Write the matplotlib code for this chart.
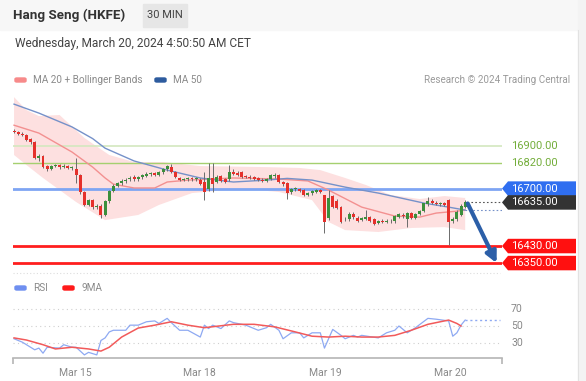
import numpy as np
import matplotlib.pyplot as plt
from matplotlib.patches import Polygon, Rectangle, FancyBboxPatch
from matplotlib.lines import Line2D

plt.rcParams["font.family"] = ["Roboto", "DejaVu Sans"]

# ---- data (30 min candles, Mar 14 -> Mar 20) ----
opens = [16972, 16964, 16958, 16952, 16932, 16920, 16842, 16855, 16804, 16792,
         16806, 16810, 16800, 16806, 16796, 16792, 16762, 16684, 16624, 16646,
         16614, 16620, 16578, 16640, 16690, 16714, 16726, 16736, 16744, 16756,
         16744, 16754, 16760, 16768, 16774, 16764, 16778, 16790, 16802, 16778,
         16748, 16740, 16744, 16750, 16744, 16742, 16730, 16700, 16750, 16732,
         16760, 16744, 16744, 16776, 16772, 16776, 16758, 16754, 16754, 16748,
         16742, 16738, 16744, 16760, 16766, 16730, 16724, 16684, 16698, 16700,
         16692, 16672, 16678, 16686, 16692, 16668, 16560, 16664, 16640, 16612,
         16558, 16555, 16582, 16562, 16552, 16558, 16566, 16556, 16538, 16548,
         16544, 16550, 16546, 16566, 16578, 16556, 16586, 16564, 16580, 16594,
         16626, 16642, 16634, 16628, 16632, 16646, 16546, 16558, 16578, 16615]
highs = [16980, 16970, 16966, 16958, 16940, 16926, 16862, 16860, 16812, 16812,
         16815, 16816, 16814, 16812, 16806, 16845, 16770, 16690, 16652, 16652,
         16628, 16626, 16646, 16695, 16720, 16732, 16744, 16748, 16758, 16762,
         16760, 16768, 16776, 16780, 16780, 16784, 16795, 16812, 16815, 16784,
         16756, 16752, 16756, 16756, 16756, 16750, 16778, 16820, 16822, 16764,
         16766, 16752, 16812, 16790, 16782, 16782, 16766, 16762, 16760, 16754,
         16748, 16748, 16770, 16772, 16770, 16738, 16730, 16704, 16708, 16704,
         16698, 16684, 16692, 16698, 16698, 16672, 16695, 16672, 16650, 16618,
         16566, 16588, 16590, 16570, 16566, 16600, 16572, 16562, 16554, 16556,
         16556, 16556, 16576, 16586, 16584, 16592, 16592, 16586, 16600, 16634,
         16662, 16650, 16640, 16638, 16638, 16652, 16565, 16598, 16628, 16648]
lows = [16960, 16952, 16945, 16925, 16912, 16838, 16832, 16795, 16782, 16786,
        16800, 16794, 16796, 16790, 16788, 16725, 16675, 16618, 16618, 16606,
        16606, 16562, 16570, 16632, 16684, 16706, 16718, 16728, 16738, 16738,
        16738, 16746, 16754, 16760, 16758, 16758, 16770, 16784, 16772, 16752,
        16734, 16734, 16738, 16738, 16736, 16715, 16646, 16690, 16684, 16725,
        16730, 16724, 16738, 16764, 16760, 16750, 16748, 16744, 16742, 16734,
        16732, 16732, 16740, 16752, 16726, 16714, 16650, 16676, 16690, 16684,
        16664, 16664, 16672, 16680, 16678, 16490, 16552, 16610, 16604, 16538,
        16548, 16548, 16558, 16545, 16546, 16552, 16544, 16530, 16532, 16538,
        16538, 16540, 16540, 16560, 16562, 16520, 16555, 16556, 16574, 16588,
        16620, 16628, 16622, 16620, 16618, 16435, 16540, 16550, 16570, 16608]
closes = [16964, 16958, 16950, 16930, 16918, 16845, 16855, 16800, 16790, 16805,
          16810, 16800, 16808, 16795, 16800, 16765, 16682, 16625, 16646, 16612,
          16620, 16575, 16640, 16690, 16714, 16728, 16738, 16742, 16752, 16744,
          16756, 16762, 16770, 16775, 16764, 16778, 16790, 16804, 16778, 16756,
          16740, 16746, 16750, 16744, 16750, 16722, 16686, 16752, 16722, 16756,
          16736, 16730, 16776, 16770, 16766, 16754, 16754, 16750, 16747, 16740,
          16738, 16743, 16763, 16766, 16730, 16720, 16678, 16700, 16702, 16690,
          16670, 16678, 16688, 16692, 16684, 16545, 16655, 16615, 16610, 16545,
          16555, 16582, 16565, 16550, 16560, 16566, 16550, 16535, 16548, 16544,
          16550, 16546, 16570, 16580, 16570, 16586, 16560, 16580, 16595, 16630,
          16642, 16634, 16628, 16632, 16624, 16545, 16556, 16590, 16620, 16635]

# moving averages / bands (candle index, price)
ma50_idx = [0, 6, 14, 19, 22, 29, 37, 45, 53, 61, 66, 72, 80, 88, 99, 105, 109]
ma50_val = [17097, 17055, 16990, 16935, 16890, 16830, 16787, 16750, 16731, 16740,
            16748, 16740, 16707, 16679, 16632, 16613, 16599]
ma20_idx = [0, 6, 14, 19, 22, 24, 29, 34, 37, 42, 53, 64, 71, 76, 84, 92, 98, 102, 107, 109]
ma20_val = [16998, 16961, 16872, 16801, 16750, 16721, 16703, 16703, 16731, 16740,
            16750, 16745, 16736, 16693, 16613, 16571, 16566, 16585, 16594, 16599]
bb_up_idx = [0, 3, 6, 11, 17, 23, 29, 36, 45, 61, 69, 74, 80, 85, 91, 98, 104, 109]
bb_up_val = [17130, 17069, 17041, 17046, 16938, 16858, 16825, 16825, 16806, 16801,
             16797, 16787, 16750, 16717, 16670, 16651, 16665, 16656]
bb_lo_idx = [0, 3, 7, 15, 22, 30, 35, 43, 51, 59, 64, 72, 76, 80, 88, 96, 104, 109]
bb_lo_val = [16858, 16811, 16750, 16637, 16552, 16576, 16623, 16679, 16693, 16693,
             16684, 16646, 16543, 16505, 16496, 16515, 16519, 16505]

# RSI panel
rsi_idx = [0, 2, 5, 6, 7, 8, 11, 12, 14, 15, 17, 18, 20, 21, 22, 23, 24, 27, 28, 30,
           32, 34, 35, 37, 38, 40, 42, 45, 46, 47, 48, 50, 52, 53, 56, 59, 61, 62, 64,
           65, 67, 69, 70, 72, 74, 75, 77, 79, 80, 82, 83, 84, 88, 90, 92, 93, 95, 97,
           100, 102, 105, 106, 107, 108, 109]
rsi_val = [35, 31, 22, 24, 18, 25, 24, 28, 25, 25, 16, 19, 16, 33, 36, 43, 45, 45, 51, 51,
           55, 56, 53, 59, 54, 45, 45, 37, 51, 47, 51, 47, 56, 54, 51, 45, 48, 52, 45,
           35, 42, 42, 36, 42, 42, 24, 46, 39, 35, 39, 37, 39, 36, 42, 45, 50, 42, 48,
           59, 58, 56, 38, 42, 51, 57]
ma9_idx = [0, 3, 7, 10, 14, 18, 21, 23, 26, 30, 34, 38, 42, 46, 53, 58, 63, 68, 72,
           76, 80, 84, 88, 92, 96, 100, 105, 107, 108]
ma9_val = [36, 33.5, 28, 23, 25, 23, 20.5, 25, 37, 47.6, 51, 55, 51, 48, 52, 52, 49,
           43, 38, 37, 38, 37, 37, 39, 45, 52, 57, 53, 50]

levels = [16900, 16820, 16700, 16430, 16350]
level_colors = ["#d3e8bf", "#a5d06f", "#7ea5f3", "#ff1e1e", "#ff1e1e"]
level_widths = [1.2, 1.0, 2.0, 2.0, 2.0]
target = 16350
day_ticks = [14.7, 44.9, 75.1, 105.3]
day_labels = ["Mar 15", "Mar 18", "Mar 19", "Mar 20"]

W, H = 586, 381
fig = plt.figure(figsize=(W / 100, H / 100), dpi=100)


def px_box(x0, y0, x1, y1):
    return [x0 / W, 1 - y1 / H, (x1 - x0) / W, (y1 - y0) / H]


def fx(x):
    return x / W


def fy(y):
    return 1 - y / H


# page frame
fig.patches.append(Rectangle((0, fy(30)), 1, 1 - fy(30), transform=fig.transFigure,
                             color="#f7f7f7", zorder=0))
fig.patches.append(Rectangle((fx(578), 0), 1, 1, transform=fig.transFigure,
                             color="#f3f3f3", zorder=0))
fig.lines.append(Line2D([fx(578), fx(578)], [0, fy(30)], transform=fig.transFigure,
                        color="#e2e2e2", lw=0.8))

# header
fig.text(fx(13), fy(15), "Hang Seng (HKFE)", fontsize=9.6, fontweight="bold",
         color="#333333", va="center")
fig.patches.append(Rectangle((fx(143), fy(27)), fx(44), (27 - 4) / H,
                             transform=fig.transFigure, color="#e6e6e6"))
fig.text(fx(165), fy(15), "30 MIN", fontsize=8, color="#444444", va="center", ha="center")
fig.text(fx(15), fy(44), "Wednesday, March 20, 2024 4:50:50 AM CET", fontsize=8.6,
         color="#444444", va="center")

# legends
def legend_patch(x, y, color):
    fig.patches.append(FancyBboxPatch((fx(x), fy(y + 2)), fx(11), 4 / H,
                                      boxstyle="round,pad=0,rounding_size=0.003",
                                      transform=fig.transFigure, color=color))


legend_patch(15, 80, "#f78a8a")
fig.text(fx(33), fy(80), "MA 20 + Bollinger Bands", fontsize=7.2, color="#8a8a8a", va="center")
legend_patch(155, 80, "#2d5b9e")
fig.text(fx(173), fy(80), "MA 50", fontsize=7.2, color="#8a8a8a", va="center")
fig.text(fx(570), fy(80), "Research \u00a9 2024 Trading Central", fontsize=7.1,
         color="#9a9a9a", va="center", ha="right")

legend_patch(15, 288, "#6f8ff0")
fig.text(fx(33), fy(288), "RSI", fontsize=7.2, color="#8a8a8a", va="center")
legend_patch(63, 288, "#ff1a1a")
fig.text(fx(82), fy(288), "9MA", fontsize=7.2, color="#8a8a8a", va="center")

fig.lines.append(Line2D([fx(13), fx(500)], [fy(273), fy(273)], transform=fig.transFigure,
                        color="#dddddd", lw=0.8, ls=(0, (1, 2))))

# ---- price panel ----
xlim = (-0.25, 117.9)
ylim = (16308, 17140)
ax = fig.add_axes(px_box(13, 95, 502, 272))
ax.set_xlim(*xlim)
ax.set_ylim(*ylim)
ax.axis("off")

ax.fill(np.r_[bb_up_idx, bb_lo_idx[::-1]], np.r_[bb_up_val, bb_lo_val[::-1]],
        color="#fde0e0", lw=0, zorder=1)
for lv, c, w in zip(levels, level_colors, level_widths):
    ax.axhline(lv, color=c, lw=w, zorder=2)
ax.plot(ma20_idx, ma20_val, color="#f39090", lw=1.0, zorder=3)
ax.plot(ma50_idx, ma50_val, color="#7591c9", lw=1.0, zorder=3)

o = np.array(opens)
c = np.array(closes)
x = np.arange(len(o))
up = c >= o
ax.vlines(x, lows, highs, color="#6b6b6b", lw=0.7, zorder=4)
body_lo = np.minimum(o, c)
body_h = np.maximum(np.abs(c - o), 3)
ax.bar(x[up], body_h[up], bottom=body_lo[up], width=0.72, color="#3c8f3c", zorder=5)
ax.bar(x[~up], body_h[~up], bottom=body_lo[~up], width=0.72, color="#e5302b", zorder=5)

last = len(c) - 1
ax.plot([last + 0.5, xlim[1]], [closes[-1]] * 2, color="#555555", lw=0.8,
        ls=(0, (1.5, 2)), zorder=3)
ax.plot([ma50_idx[-1], xlim[1]], [ma50_val[-1]] * 2, color="#7591c9", lw=0.8,
        ls=(0, (1.5, 2)), zorder=3)
ax.annotate("", xy=(last + 7.6, target), xytext=(last + 0.6, closes[-1] - 5),
            arrowprops=dict(arrowstyle="-|>", color="#2c5fa8", lw=3, mutation_scale=16,
                            shrinkA=0, shrinkB=0), zorder=6, annotation_clip=False)

# right side price tags
axr = fig.add_axes(px_box(502, 95, 578, 272))
axr.set_xlim(0, 76)
axr.set_ylim(*ylim)
axr.axis("off")
tag_h = 14.5 * (ylim[1] - ylim[0]) / 177
tag_colors = [None, None, "#2f6ef0", "#ff1010", "#ff1010"]
tags = levels[:]
tags.insert(3, closes[-1])
tag_colors.insert(3, "#333333")
for lv, tc in zip(tags, tag_colors):
    label = f"{lv:.2f}"
    if tc is None:
        axr.text(9, lv, label, fontsize=8, color="#73ad3a", va="center", ha="left")
        continue
    hh = tag_h / 2
    axr.add_patch(Polygon([[0, lv], [6, lv + hh], [74, lv + hh], [74, lv - hh], [6, lv - hh]],
                          closed=True, color=tc, lw=0, clip_on=False))
    axr.text(9, lv, label, fontsize=8, color="white", va="center", ha="left")

# ---- RSI panel ----
ax2 = fig.add_axes(px_box(13, 295, 502, 358))
ax2.set_xlim(*xlim)
ax2.set_ylim(12.35, 86.5)
for g in (30, 50, 70):
    ax2.axhline(g, color="#cfcfcf", lw=0.8, ls=(0, (1, 3)), zorder=1)
ax2.plot(rsi_idx, rsi_val, color="#8ea9f2", lw=0.9, zorder=3)
ax2.plot([rsi_idx[-1], xlim[1] - 0.5], [rsi_val[-1]] * 2, color="#8ea9f2", lw=1.0,
         ls=(0, (1.5, 2)), zorder=3)
ax2.plot(ma9_idx, ma9_val, color="#f25a5a", lw=1.1, zorder=4)
for s in ("top", "right", "left"):
    ax2.spines[s].set_visible(False)
ax2.spines["bottom"].set_color("#b5b5b5")
ax2.spines["bottom"].set_linewidth(1.2)
ax2.set_yticks([])
ax2.set_xticks(day_ticks, day_labels)
ax2.set_xticks(xlim, minor=True)
ax2.tick_params(axis="x", which="major", length=0, pad=7, labelsize=7.5, labelcolor="#888888")
ax2.tick_params(axis="x", which="minor", length=4, width=1.2, color="#b5b5b5")
ax2.patch.set_alpha(0)

axr2 = fig.add_axes(px_box(502, 295, 578, 358))
axr2.set_xlim(0, 76)
axr2.set_ylim(12.35, 86.5)
axr2.axis("off")
for g in (30, 50, 70):
    axr2.text(9, g, str(g), fontsize=7.5, color="#888888", va="center", ha="left")

fig.savefig("out.png", dpi=100)
